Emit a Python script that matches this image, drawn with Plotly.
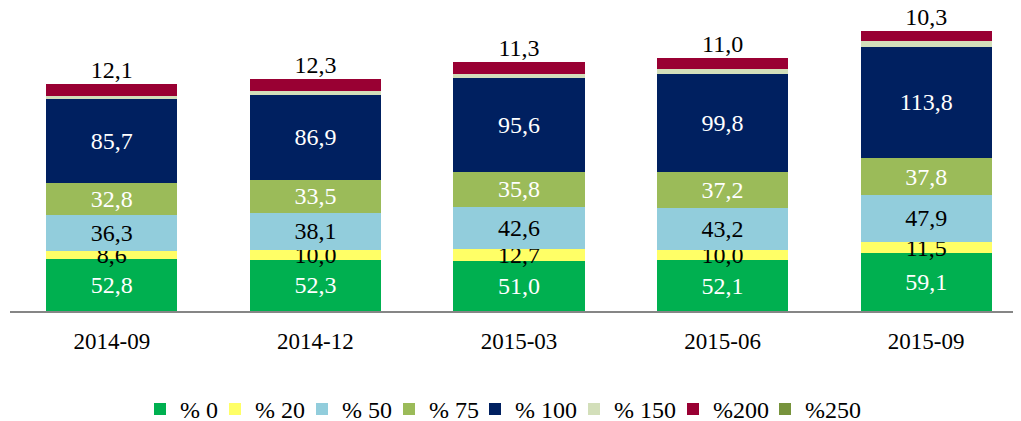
import plotly.graph_objects as go

categories = ["2014-09", "2014-12", "2015-03", "2015-06", "2015-09"]
s0 = [52.8, 52.3, 51.0, 52.1, 59.1]
s20 = [8.6, 10.0, 12.7, 10.0, 11.5]
s50 = [36.3, 38.1, 42.6, 43.2, 47.9]
s75 = [32.8, 33.5, 35.8, 37.2, 37.8]
s100 = [85.7, 86.9, 95.6, 99.8, 113.8]
s150 = [4.0, 4.3, 5.0, 5.0, 5.4]
s200 = [12.1, 12.3, 11.3, 11.0, 10.3]
s250 = [0, 0, 0, 0, 0]

series = [
    ("% 0", s0, "#00B050", "white", True),
    ("% 20", s20, "#FFFF66", "black", True),
    ("% 50", s50, "#92CDDC", "black", True),
    ("% 75", s75, "#9BBB59", "white", True),
    ("% 100", s100, "#002060", "white", True),
    ("% 150", s150, "#D3DFBA", "black", False),
    ("%200", s200, "#990033", "black", False),
    ("%250", s250, "#77933C", "black", False),
]

# legend entry text start positions (screen px)
legend_text_x = [183, 258, 345, 432, 518, 617, 716, 808]

def fmt(v):
    return f"{v:.1f}".replace(".", ",")

FONT = "Liberation Serif, Times New Roman, serif"
LBL = 24
fig = go.Figure()
legend_layout = {}
for i, (name, vals, color, tcol, show) in enumerate(series):
    lname = "legend" if i == 0 else f"legend{i+1}"
    fig.add_trace(go.Bar(
        name=name, x=categories, y=vals, marker=dict(color=color, line=dict(width=0)),
        text=[fmt(v) for v in vals] if show else None,
        textposition="inside" if show else "none",
        insidetextanchor="middle", textangle=0,
        textfont=dict(family=FONT, size=LBL, color=tcol),
        hoverinfo="skip", legend=lname,
    ))
    left_screen = legend_text_x[i] - 3 - 40
    legend_layout[lname] = dict(
        orientation="h", x=(left_screen - 10) / 1018, xanchor="left",
        y=-0.327, yanchor="middle", bgcolor="rgba(0,0,0,0)", borderwidth=0,
        font=dict(family=FONT, size=24, color="black"), itemwidth=30,
    )

totals = [sum(v) for v in zip(s0, s20, s50, s75, s100, s150, s200, s250)]
fig.add_trace(go.Scatter(
    x=categories, y=totals, mode="text", text=[fmt(v) for v in s200],
    textposition="top center", textfont=dict(family=FONT, size=LBL, color="black"),
    showlegend=False, hoverinfo="skip", cliponaxis=False,
))

fig.update_layout(
    width=1021, height=421,
    margin=dict(l=2, r=1, t=2, b=117.5, autoexpand=False),
    barmode="stack", bargap=0.355,
    plot_bgcolor="white", paper_bgcolor="white",
    font=dict(family=FONT, size=23, color="black"),
    uniformtext=dict(minsize=LBL, mode="show"),
    xaxis=dict(type="category", range=[-0.5, 4.5], showline=True, linecolor="#868686",
               linewidth=1.5, ticks="", showgrid=False, ticklabelstandoff=9,
               automargin=False,
               tickfont=dict(family=FONT, size=23, color="black")),
    yaxis=dict(range=[0, 307.6], visible=False, showgrid=False, automargin=False),
    **legend_layout,
)

fig.write_html("out.html")
